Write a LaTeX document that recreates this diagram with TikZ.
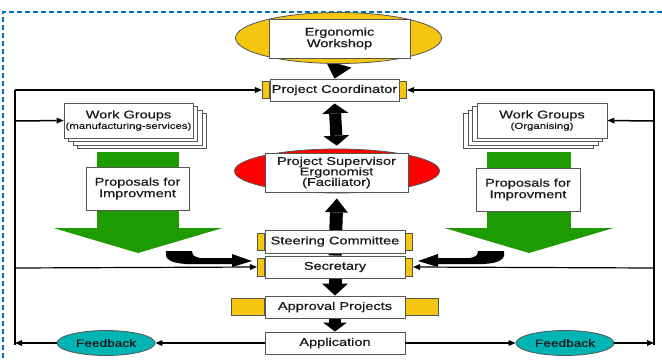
\documentclass[tikz,border=0pt]{standalone}
\usepackage{fontspec}
\setmainfont{Liberation Sans}[FakeStretch=1.3,FakeBold=0.6]
\usetikzlibrary{arrows.meta,shapes.geometric}
\definecolor{tabyellow}{HTML}{F5C610}
\definecolor{tealc}{HTML}{00B4B4}
\definecolor{grnc}{HTML}{1E9B00}
\definecolor{bluec}{HTML}{0070C0}
\definecolor{bordergray}{HTML}{555555}
\definecolor{txt}{HTML}{1A1A1A}
\pgfdeclarelayer{bg}
\pgfsetlayers{bg,main}
\begin{document}
\begin{tikzpicture}[x=1pt,y=-1pt,
  box/.style={draw=bordergray, line width=0.9pt, fill=white, inner sep=0pt, text=txt,
              font=\fontsize{11.2}{11.5}\selectfont, align=center},
  tab/.style={draw=bordergray, line width=0.6pt, fill=tabyellow, inner sep=0pt},
  ell/.style={ellipse, draw=bordergray, line width=0.8pt, inner sep=0pt},
  conn/.style={line width=1.5pt, black, -{Triangle[length=7pt 0 0, width=6pt 0 0, line width=0pt 0 0]}},
  plain/.style={line width=1.5pt, black}
]
\useasboundingbox (0,0) rectangle (662,360);

% blue dashed frame
\draw[bluec, line width=1.4pt, dash pattern=on 5pt off 3pt] (662,12) -- (3,12) -- (3,360);

% ---- central column ----
\node[ell, fill=tabyellow, minimum width=206pt, minimum height=51pt] (wsE) at (338.5,38) {};
\node[box, minimum width=141pt, minimum height=39pt] (ws) at (339.5,38.5) {Ergonomic\\Workshop};

\node[box, minimum width=129pt, minimum height=22pt] (pc) at (334.5,90) {Project Coordinator};
\node[tab, minimum width=7pt, minimum height=17pt, anchor=east] (pcL) at (pc.west) {};
\node[tab, minimum width=7pt, minimum height=17pt, anchor=west] (pcR) at (pc.east) {};

\node[ell, fill=red, minimum width=205pt, minimum height=44pt] (supE) at (337,171) {};
\node[box, minimum width=143pt, minimum height=39pt, font=\fontsize{11.2}{10.5}\selectfont] (sup) at (336.5,172.5) {Project Supervisor\\Ergonomist\\(Faciliator)};

\node[box, minimum width=140pt, minimum height=23pt] (sc) at (335,241.5) {Steering Committee};
\node[tab, minimum width=7pt, minimum height=17pt, anchor=east] (scL) at (sc.west) {};
\node[tab, minimum width=7pt, minimum height=17pt, anchor=west] (scR) at (sc.east) {};

\node[box, minimum width=140pt, minimum height=22pt] (sec) at (335,267) {Secretary};
\node[tab, minimum width=7pt, minimum height=18pt, anchor=east] (secL) at (sec.west) {};
\node[tab, minimum width=7pt, minimum height=18pt, anchor=west] (secR) at (sec.east) {};

\node[box, minimum width=140pt, minimum height=22pt] (ap) at (335,307) {Approval Projects};
\node[tab, minimum width=33pt, minimum height=17pt, anchor=east] (apL) at (ap.west) {};
\node[tab, minimum width=33pt, minimum height=17pt, anchor=west] (apR) at (ap.east) {};

\node[box, minimum width=140pt, minimum height=22pt] (app) at (335,343) {Application};

% ---- work groups ----
\foreach \d in {3,2,1}
  \node[box, minimum width=129pt, minimum height=35pt] (wgLs\d) at ({128.5+4.5*\d},{120.5+3.5*\d}) {};
\node[box, minimum width=129pt, minimum height=35pt] (wgL) at (128.5,120.5)
  {Work Groups\\[-1pt]{\fontsize{8.8}{9}\selectfont(manufacturing-services)}};
\foreach \d in {3,2,1}
  \node[box, minimum width=130pt, minimum height=35pt] (wgRs\d) at ({542-4.5*\d},{120.5+3.5*\d}) {};
\node[box, minimum width=130pt, minimum height=35pt] (wgR) at (542,120.5)
  {Work Groups\\[-1pt]{\fontsize{8.8}{9}\selectfont(Organising)}};

% ---- proposals ----
\coordinate (gLa) at (138,152);
\coordinate (gLb) at (138,253);
\coordinate (gRa) at (529,152);
\coordinate (gRb) at (529,253);
\node[box, minimum width=103pt, minimum height=43pt] (prL) at (137.5,188.5) {Proposals for\\Improvment};
\node[box, minimum width=104pt, minimum height=43pt] (prR) at (528,189.5) {Proposals for\\Improvment};

% ---- feedback ----
\node[ell, fill=tealc, minimum width=98pt, minimum height=25pt, text=txt, font=\fontsize{10.5}{11}\selectfont] (fbL) at (106,343) {Feedback};
\node[ell, fill=tealc, minimum width=98pt, minimum height=25pt, text=txt, font=\fontsize{10.5}{11}\selectfont] (fbR) at (565,343) {Feedback};

% ---- block arrows (background) ----
\begin{pgfonlayer}{bg}
  \draw[line width=82pt, grnc, -{Triangle[length=25pt 0 0, width=169pt 0 0, line width=0pt 0 0]}] (gLa) -- (gLb);
  \draw[line width=84pt, grnc, -{Triangle[length=25pt 0 0, width=169pt 0 0, line width=0pt 0 0]}] (gRa) -- (gRb);
  \draw[line width=14pt, black, -{Triangle[length=15pt 0 0, width=27pt 0 0, line width=0pt 0 0]}] (wsE.south) -- (pc.north);
  \draw[line width=12pt, black, {Triangle[length=10pt 0 0, width=26pt 0 0, line width=0pt 0 0]}-{Triangle[length=10pt 0 0, width=26pt 0 0, line width=0pt 0 0]}, shorten <=2pt, shorten >=3pt] (pc.south) -- (supE.north);
  \draw[line width=13pt, black, -{Triangle[length=14pt 0 0, width=23pt 0 0, line width=0pt 0 0]}, shorten >=5pt] (sec.north) -- (supE.south);
  \draw[line width=13pt, black, -{Triangle[length=12pt 0 0, width=26pt 0 0, line width=0pt 0 0]}] (sec.south) -- (ap.north);
  \draw[line width=12pt, black, -{Triangle[length=9pt 0 0, width=24pt 0 0, line width=0pt 0 0]}] (ap.south) -- (app.north);
\end{pgfonlayer}

% ---- curved black arrows into secretary ----
\fill[black] (166,251) -- (192,251) .. controls (193,256) .. (200,258) -- (232,258) -- (232,254)
  -- (252,261) -- (232,267) -- (232,264) -- (186,264) .. controls (172,263) and (167,260) .. (166,256) -- cycle;
\fill[black] (504,251) -- (478,251) .. controls (477,256) .. (470,258) -- (438,258) -- (438,254)
  -- (418,261) -- (438,267) -- (438,264) -- (484,264) .. controls (498,263) and (503,260) .. (504,256) -- cycle;

% ---- feedback loops ----
\coordinate (L1) at (15,90);
\coordinate (L2) at (15,121);
\coordinate (L3) at (15,268);
\coordinate (L4) at (15,343);
\coordinate (L5) at (15,345);
\coordinate (R1) at (654,90);
\coordinate (R2) at (654,121);
\coordinate (R3) at (654,268);
\coordinate (R4) at (654,343);
\coordinate (R5) at (654,345);

\draw[plain] (L5) -- (L1);
\draw[conn] (L1) -- (pcL.west);
\draw[conn] (L2) -- (wgL.west);
\draw[conn, line width=1.2pt] (L3) -- (secL.west);
\draw[conn] (app.west) -- (fbL.east);
\draw[conn] (fbL.west) -- (L4);

\draw[plain] (R5) -- (R1);
\draw[conn] (R1) -- (pcR.east);
\draw[conn] (R2) -- (wgR.east);
\draw[conn, line width=1.2pt] (R3) -- (secR.east);
\draw[conn] (app.east) -- (fbR.west);
\draw[conn] (fbR.east) -- (R4);
\end{tikzpicture}
\end{document}
